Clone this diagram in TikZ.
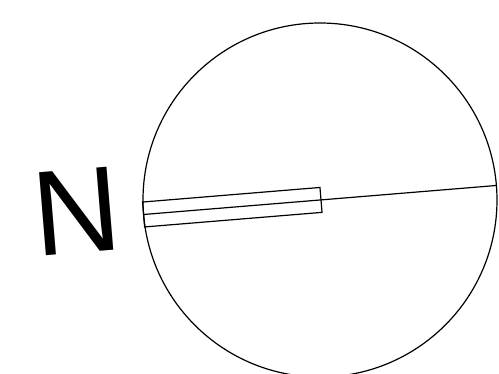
\documentclass[tikz,border=0pt]{standalone}
\usepackage{fontspec}
\setmainfont{Liberation Sans}
\begin{document}
\begin{tikzpicture}[x=1pt, y=-1pt, line width=1.2pt,
    nordpfeil/.style={font=\fontsize{121}{121}\selectfont, inner sep=0pt}
]
  \useasboundingbox (0,0) rectangle (499,374);

  % Scheibe
  \coordinate (mitte) at (320,200);
  \draw (mitte) circle (177pt);

  % Zeiger und Durchmesser
  \begin{scope}[rotate around={4.7:(mitte)}]
    \coordinate (links) at (143,200);
    \coordinate (rechts) at (497,200);
    \draw (links) -- (rechts);
    \draw (143,187.5) rectangle (321,212.5);
  \end{scope}

  % Beschriftung
  \node[nordpfeil, rotate=4.7] (nord) at (77,211) {N};

\end{tikzpicture}
\end{document}
